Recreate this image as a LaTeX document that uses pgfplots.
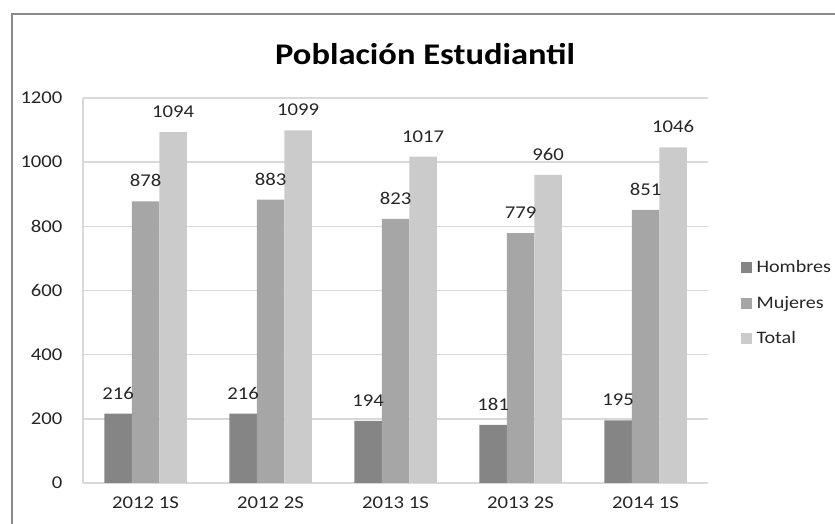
\documentclass[border=0pt]{standalone}
\usepackage{pgfplots}
\pgfplotsset{compat=1.18}
\usepackage{fontspec}
\setmainfont{Carlito}[FakeStretch=1.15]
\definecolor{hombres}{HTML}{858585}
\definecolor{mujeres}{HTML}{A6A6A6}
\definecolor{total}{HTML}{CBCBCB}
\definecolor{gridc}{HTML}{D9D9D9}
\definecolor{framec}{HTML}{8A8A8A}
\definecolor{ink}{HTML}{262626}

\begin{document}
\begin{tikzpicture}[x=1pt,y=1pt]
\useasboundingbox (0,0) rectangle (835,524);
\draw[framec, line width=2.5pt] (12,0) -- (12,510) -- (835,510);
\node[font=\fontsize{30}{36}\selectfont\bfseries, text=black] at (425,470) {Población Estudiantil};
\begin{axis}[
  at={(83pt,41pt)}, anchor=south west,
  scale only axis,
  width=625pt, height=385pt,
  ybar=0pt,
  bar width=27.5pt,
  xmin=-0.5, xmax=4.5,
  ymin=0, ymax=1200,
  xtick=data,
  xticklabels={2012 1S, 2012 2S, 2013 1S, 2013 2S, 2014 1S},
  ytick={0,200,...,1200},
  major tick length=0pt,
  /pgf/number format/assume math mode=true,
  /pgf/number format/1000 sep={},
  tick label style={font=\fontsize{18}{21}\selectfont, color=ink},
  yticklabel style={xshift=-17pt},
  xticklabel style={yshift=-10pt},
  ymajorgrids,
  xmajorgrids=false,
  grid style={gridc, line width=1.5pt},
  axis x line*=bottom,
  axis y line*=left,
  x axis line style={gridc, line width=1.5pt, -},
  y axis line style={gridc, line width=1.5pt, -},
  nodes near coords,
  every node near coord/.append style={font=\fontsize{18}{21}\selectfont, color=ink, yshift=11pt},
  legend style={at={(1.047,0.4675)}, anchor=west, draw=none, fill=none,
    font=\fontsize{17.5}{21}\selectfont, row sep=18pt, text=ink,
    /tikz/every odd column/.append style={column sep=3pt}},
  legend cell align=left,
  legend image code/.code={\fill[#1] (0pt,-5.5pt) rectangle (11pt,5.5pt);},
]
\addplot[fill=hombres, draw=none] coordinates {(0,216) (1,216) (2,194) (3,181) (4,195)};
\addplot[fill=mujeres, draw=none] coordinates {(0,878) (1,883) (2,823) (3,779) (4,851)};
\addplot[fill=total, draw=none] coordinates {(0,1094) (1,1099) (2,1017) (3,960) (4,1046)};
\legend{Hombres, Mujeres, Total}
\end{axis}
\end{tikzpicture}
\end{document}
